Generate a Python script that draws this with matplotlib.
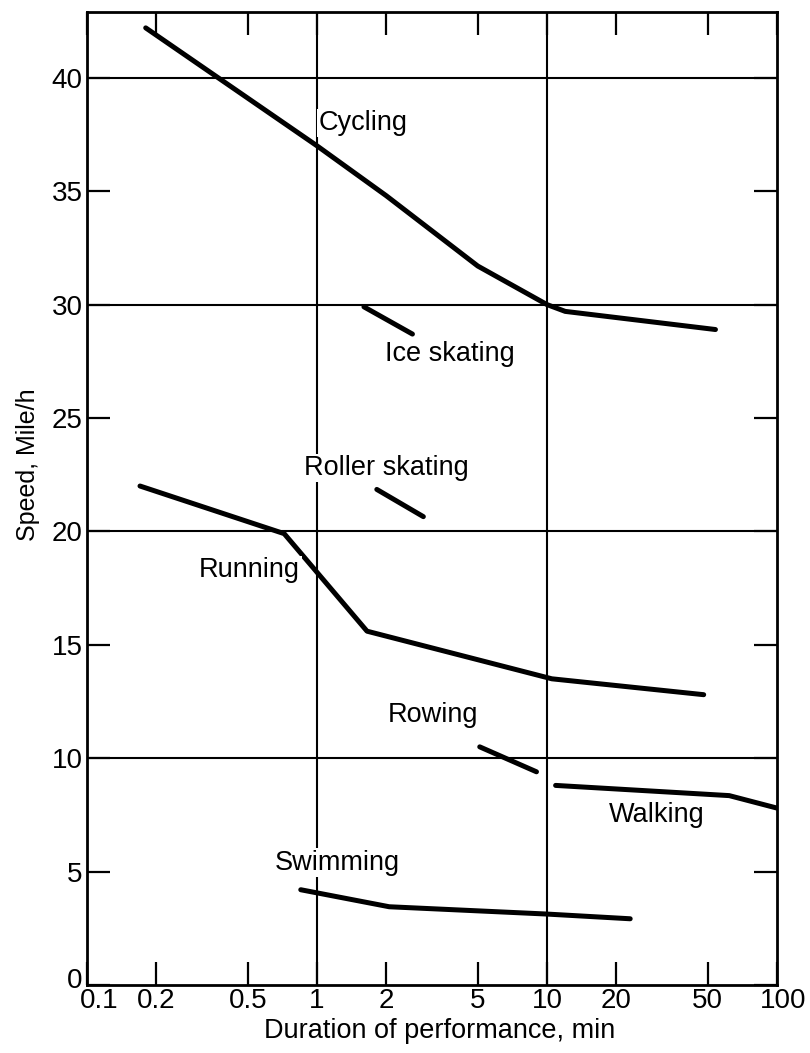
import matplotlib
matplotlib.use("Agg")
import matplotlib.pyplot as plt
import matplotlib.transforms as mtransforms

plt.rcParams['font.family'] = ['Liberation Sans', 'DejaVu Sans']

# Data (duration in min, speed in mile/h)
cycling_x = [0.18, 1.0, 2.0, 5.0, 10.0, 12.0, 54.0]
cycling_y = [42.2, 37.0, 34.8, 31.7, 30.0, 29.7, 28.9]

ice_x = [1.6, 2.6]
ice_y = [29.9, 28.7]

roller_x = [1.82, 2.9]
roller_y = [21.85, 20.65]

running_x = [0.17, 0.72, 1.65, 10.5, 48.0]
running_y = [22.0, 19.9, 15.6, 13.5, 12.8]

rowing_x = [5.1, 9.0]
rowing_y = [10.5, 9.4]

walking_x = [10.9, 62.0, 100.0]
walking_y = [8.8, 8.35, 7.8]

swimming_x = [0.85, 2.06, 9.9, 23.0]
swimming_y = [4.2, 3.45, 3.13, 2.92]

series = [
    (cycling_x, cycling_y),
    (ice_x, ice_y),
    (roller_x, roller_y),
    (running_x, running_y),
    (rowing_x, rowing_y),
    (walking_x, walking_y),
    (swimming_x, swimming_y),
]

labels = ["Cycling", "Ice skating", "Roller skating", "Running", "Rowing", "Walking", "Swimming"]
label_x = [1.58, 3.8, 2.0, 0.51, 3.2, 30.0, 1.22]
label_y = [38.0, 27.8, 22.8, 18.3, 11.9, 7.5, 5.4]

xticks = [0.1, 0.2, 0.5, 1, 2, 5, 10, 20, 50, 100]
xticklabels = ["0.1", "0.2", "0.5", "1", "2", "5", "10", "20", "50", "100"]
yticks = [0, 5, 10, 15, 20, 25, 30, 35, 40]
ygrid = [10, 20, 30, 40]
xgrid = [1, 10]

fig = plt.figure(figsize=(8.1, 10.53), dpi=100)
ax = fig.add_axes([87/810, 1 - 985/1053, (777-87)/810, (985-12)/1053])

ax.set_xscale('log')
ax.set_xlim(0.1, 100)
ax.set_ylim(0, 42.9)

for g in ygrid:
    ax.axhline(g, color='black', lw=1.5, zorder=1)
for g in xgrid:
    ax.axvline(g, color='black', lw=1.5, zorder=1)

for xs, ys in series:
    ax.plot(xs, ys, color='black', lw=3.6, solid_capstyle='round', zorder=3)

for t, lx, ly in zip(labels, label_x, label_y):
    ax.text(lx, ly, t, fontsize=19.5, ha='center', va='center', zorder=4,
            bbox=dict(facecolor='white', edgecolor='none', pad=1))

ax.set_xticks(xticks)
ax.set_xticklabels(xticklabels)
ax.minorticks_off()
ax.set_yticks(yticks)
ax.tick_params(axis='both', direction='in', length=16.5, width=1.6,
               top=True, right=True, labelsize=20, pad=3)
ax.tick_params(axis='x', pad=2)

# nudge corner labels apart as in the reference
xl = ax.get_xticklabels()
xl[0].set_transform(xl[0].get_transform() + mtransforms.ScaledTranslation(12/100, 0, fig.dpi_scale_trans))
xl[-1].set_transform(xl[-1].get_transform() + mtransforms.ScaledTranslation(6/100, 0, fig.dpi_scale_trans))
yl = ax.get_yticklabels()
yl[0].set_transform(yl[0].get_transform() + mtransforms.ScaledTranslation(0, 7/100, fig.dpi_scale_trans))

for s in ax.spines.values():
    s.set_linewidth(2.0)

ax.set_xlabel("Duration of performance, min", fontsize=19.5)
ax.xaxis.set_label_coords((440-87)/690, -(1018-985)/973)
ax.set_ylabel("Speed, Mile/h", fontsize=18)
ax.yaxis.set_label_coords((40-87)/690, (985-465)/973)

fig.savefig("out.png", dpi=100)
